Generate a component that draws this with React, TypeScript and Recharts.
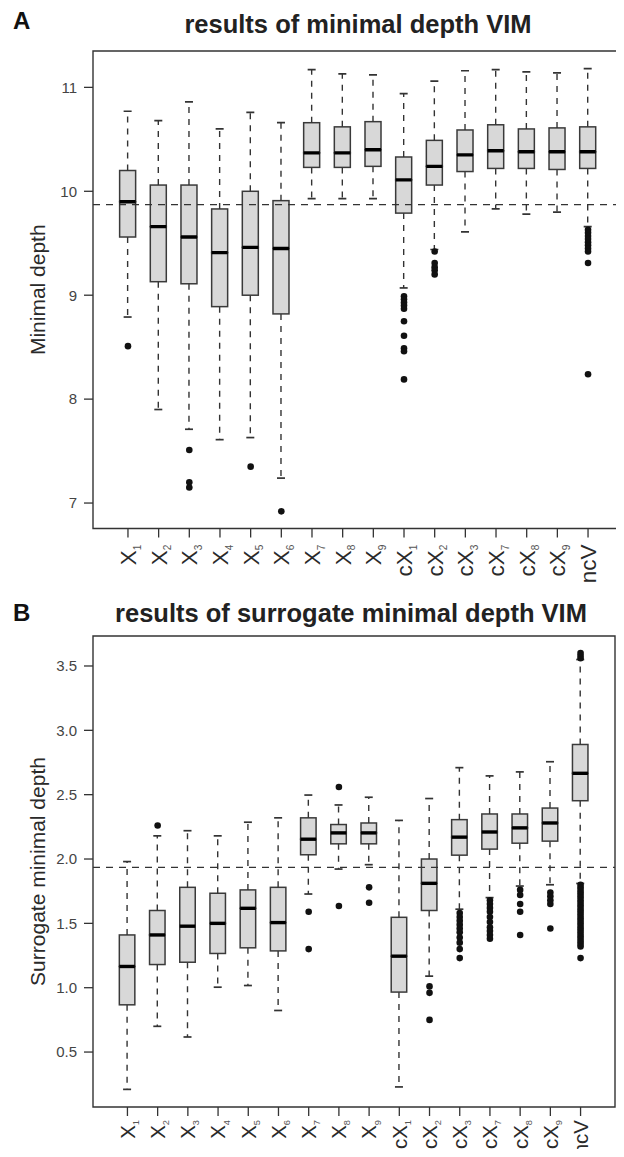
import {
  Bar,
  ComposedChart,
  Label,
  ReferenceArea,
  ReferenceLine,
  Scatter,
  XAxis,
  YAxis,
} from "recharts";

const FONT = "'Liberation Sans', Arial, Helvetica, sans-serif";

const categories = [
  "X1", "X2", "X3", "X4", "X5", "X6", "X7", "X8", "X9",
  "cX1", "cX2", "cX3", "cX7", "cX8", "cX9", "ncV",
];
const catTicks = categories.map((_, i) => i + 1);

// panel A: minimal depth
const depthLow = [8.79, 7.9, 7.71, 7.61, 7.63, 7.24, 9.93, 9.93, 9.93, 9.07, 9.44, 9.61, 9.83, 9.78, 9.8, 9.66];
const depthQ1 = [9.56, 9.13, 9.11, 8.89, 9.0, 8.82, 10.23, 10.23, 10.24, 9.79, 10.06, 10.19, 10.22, 10.22, 10.21, 10.22];
const depthMed = [9.9, 9.66, 9.56, 9.41, 9.46, 9.45, 10.37, 10.37, 10.4, 10.11, 10.24, 10.35, 10.39, 10.38, 10.38, 10.38];
const depthQ3 = [10.2, 10.06, 10.06, 9.83, 10.0, 9.91, 10.66, 10.62, 10.67, 10.33, 10.49, 10.59, 10.64, 10.6, 10.61, 10.62];
const depthHigh = [10.77, 10.68, 10.86, 10.6, 10.76, 10.66, 11.17, 11.13, 11.12, 10.94, 11.06, 11.16, 11.17, 11.15, 11.14, 11.18];
const depthOutliers: [string, number][] = [
  ["X1", 8.51],
  ["X3", 7.51], ["X3", 7.2], ["X3", 7.15],
  ["X5", 7.35],
  ["X6", 6.92],
  ["cX1", 8.99], ["cX1", 8.96], ["cX1", 8.93], ["cX1", 8.9], ["cX1", 8.87],
  ["cX1", 8.75], ["cX1", 8.61], ["cX1", 8.49], ["cX1", 8.46], ["cX1", 8.19],
  ["cX2", 9.42], ["cX2", 9.31], ["cX2", 9.27], ["cX2", 9.24], ["cX2", 9.2],
  ["ncV", 9.63], ["ncV", 9.6], ["ncV", 9.57], ["ncV", 9.54], ["ncV", 9.51],
  ["ncV", 9.48], ["ncV", 9.45], ["ncV", 9.42], ["ncV", 9.31], ["ncV", 8.24],
];
const depthCutoff = 9.872;
const depthDomain: [number, number] = [6.755, 11.35];
const depthTicks = [7, 8, 9, 10, 11];

// panel B: surrogate minimal depth
const surLow = [0.21, 0.7, 0.617, 1.004, 1.017, 0.823, 1.728, 1.922, 1.956, 0.229, 1.09, 1.61, 1.7, 1.79, 1.8, 1.81];
const surQ1 = [0.867, 1.18, 1.198, 1.266, 1.31, 1.286, 2.033, 2.118, 2.118, 0.966, 1.6, 2.03, 2.077, 2.123, 2.139, 2.453];
const surMed = [1.165, 1.41, 1.478, 1.5, 1.617, 1.506, 2.154, 2.203, 2.203, 1.245, 1.811, 2.17, 2.21, 2.242, 2.28, 2.666];
const surQ3 = [1.41, 1.6, 1.78, 1.734, 1.76, 1.78, 2.32, 2.268, 2.28, 1.547, 2.0, 2.306, 2.35, 2.35, 2.396, 2.89];
const surHigh = [1.98, 2.18, 2.22, 2.18, 2.286, 2.32, 2.497, 2.42, 2.48, 2.3, 2.47, 2.71, 2.646, 2.677, 2.756, 3.55];
const surOutliers: [string, number][] = [
  ["X2", 2.26],
  ["X7", 1.59], ["X7", 1.3],
  ["X8", 2.56], ["X8", 1.635],
  ["X9", 1.78], ["X9", 1.66],
  ["cX2", 1.01], ["cX2", 0.96], ["cX2", 0.75],
  ["cX3", 1.58], ["cX3", 1.55], ["cX3", 1.52], ["cX3", 1.49], ["cX3", 1.46],
  ["cX3", 1.43], ["cX3", 1.39], ["cX3", 1.35], ["cX3", 1.3], ["cX3", 1.23],
  ["cX7", 1.68], ["cX7", 1.65], ["cX7", 1.62], ["cX7", 1.59], ["cX7", 1.55],
  ["cX7", 1.51], ["cX7", 1.47], ["cX7", 1.44], ["cX7", 1.41], ["cX7", 1.38],
  ["cX8", 1.76], ["cX8", 1.72], ["cX8", 1.65], ["cX8", 1.59], ["cX8", 1.41],
  ["cX9", 1.74], ["cX9", 1.71], ["cX9", 1.68], ["cX9", 1.65], ["cX9", 1.46],
  ["ncV", 3.56], ["ncV", 3.58], ["ncV", 3.6],
  ["ncV", 1.8], ["ncV", 1.78], ["ncV", 1.76], ["ncV", 1.74], ["ncV", 1.72],
  ["ncV", 1.7], ["ncV", 1.68], ["ncV", 1.66], ["ncV", 1.64], ["ncV", 1.62],
  ["ncV", 1.6], ["ncV", 1.58], ["ncV", 1.56], ["ncV", 1.54], ["ncV", 1.52],
  ["ncV", 1.5], ["ncV", 1.48], ["ncV", 1.46], ["ncV", 1.44], ["ncV", 1.42],
  ["ncV", 1.4], ["ncV", 1.38], ["ncV", 1.36], ["ncV", 1.34], ["ncV", 1.32],
  ["ncV", 1.23],
];
const surCutoff = 1.935;
const surDomain: [number, number] = [0.073, 3.733];
const surTicks = [0.5, 1, 1.5, 2, 2.5, 3, 3.5];

const xDomain: [number, number] = [-0.14, 17.14];

function buildRows(low: number[], q1: number[], med: number[], q3: number[], high: number[]) {
  return categories.map((name, i) => ({
    pos: i + 1,
    name,
    base: low[i],
    lowerWhisker: q1[i] - low[i],
    lowerBox: med[i] - q1[i],
    upperBox: q3[i] - med[i],
    upperWhisker: high[i] - q3[i],
  }));
}

function buildPoints(list: [string, number][]) {
  return list.map(([name, value]) => ({ pos: categories.indexOf(name) + 1, value }));
}

const STROKE = "#333";

const Nothing = () => <g />;

function LowerWhisker(props: any) {
  const { x, y, width, height } = props;
  const cx = x + width / 2;
  const yb = y + height;
  return (
    <g>
      <line x1={cx} x2={cx} y1={y} y2={yb} stroke={STROKE} strokeWidth={1.4} strokeDasharray="6 6" />
      <line x1={cx - 4} x2={cx + 4} y1={yb} y2={yb} stroke={STROKE} strokeWidth={1.7} />
    </g>
  );
}

function UpperWhisker(props: any) {
  const { x, y, width, height } = props;
  const cx = x + width / 2;
  return (
    <g>
      <line x1={cx} x2={cx} y1={y + height} y2={y} stroke={STROKE} strokeWidth={1.4} strokeDasharray="6 6" />
      <line x1={cx - 4} x2={cx + 4} y1={y} y2={y} stroke={STROKE} strokeWidth={1.7} />
    </g>
  );
}

function LowerBox(props: any) {
  const { x, y, width, height } = props;
  return <rect x={x} y={y} width={width} height={height} fill="#d8d8d8" stroke="#3a3a3a" strokeWidth={1.5} />;
}

function UpperBox(props: any) {
  const { x, y, width, height } = props;
  const ym = y + height;
  return (
    <g>
      <rect x={x} y={y} width={width} height={height} fill="#d8d8d8" stroke="#3a3a3a" strokeWidth={1.5} />
      <line x1={x} x2={x + width} y1={ym} y2={ym} stroke="#000" strokeWidth={3.4} />
    </g>
  );
}

function OutlierDot(props: any) {
  const { cx, cy } = props;
  return <circle cx={cx} cy={cy} r={3.3} fill="#111" />;
}

function makeCategoryTick(fontSize: number, gap: number) {
  return function CategoryTick(props: any) {
    const { x, y, payload } = props;
    const label = categories[payload.value - 1];
    if (!label) return <g />;
    const m = label.match(/^(c?X)(\d)$/);
    return (
      <g transform={`translate(${x},${y + gap})`}>
        <text
          transform="rotate(-90)"
          textAnchor="end"
          x={0}
          y={fontSize * 0.36}
          fontSize={fontSize}
          fill="#2a2a2a"
          fontFamily={FONT}
        >
          {m ? (
            <>
              <tspan>{m[1]}</tspan>
              <tspan fontSize={fontSize * 0.45} dy={fontSize * 0.2} fill="#555">{m[2]}</tspan>
            </>
          ) : (
            label
          )}
        </text>
      </g>
    );
  };
}

const TopTick = makeCategoryTick(22.5, 5);
const BottomTick = makeCategoryTick(20.5, 2);

function BoxPanel({
  rows,
  points,
  domain,
  ticks,
  cutoff,
  yLabel,
  height,
  margin,
  xAxisHeight,
  boxWidth,
  fmt,
  Tick,
}: {
  rows: ReturnType<typeof buildRows>;
  points: { pos: number; value: number }[];
  domain: [number, number];
  ticks: number[];
  cutoff: number;
  yLabel: string;
  height: number;
  margin: { top: number; right: number; bottom: number; left: number };
  xAxisHeight: number;
  boxWidth: number;
  fmt: (v: number) => string;
  Tick: (p: any) => any;
}) {
  return (
    <ComposedChart width={624} height={height} data={rows} margin={margin}>
      <XAxis
        dataKey="pos"
        type="number"
        domain={xDomain}
        allowDataOverflow
        ticks={catTicks}
        interval={0}
        tickSize={9}
        axisLine={false}
        tickLine={{ stroke: STROKE, strokeWidth: 1.3 }}
        height={xAxisHeight}
        tick={<Tick />}
      />
      <YAxis
        type="number"
        domain={domain}
        allowDataOverflow
        ticks={ticks}
        interval={0}
        width={93}
        tickSize={9}
        tickMargin={7}
        axisLine={false}
        tickLine={{ stroke: STROKE, strokeWidth: 1.3 }}
        tickFormatter={fmt}
        tick={{ fill: "#444", fontSize: 15, fontFamily: FONT }}
      >
        <Label
          value={yLabel}
          angle={-90}
          position="center"
          dx={-8.5}
          fontSize={21}
          fill="#2a2a2a"
          fontFamily={FONT}
          style={{ fill: "#2a2a2a", fontSize: 21, fontFamily: FONT, textAnchor: "middle" }}
        />
      </YAxis>
      <ReferenceArea
        x1={xDomain[0]}
        x2={xDomain[1]}
        y1={domain[0]}
        y2={domain[1]}
        fill="none"
        fillOpacity={0}
        stroke={STROKE}
        strokeWidth={1.4}
        ifOverflow="visible"
      />
      <Bar dataKey="base" stackId="box" barSize={boxWidth} shape={Nothing} isAnimationActive={false} />
      <Bar dataKey="lowerWhisker" stackId="box" barSize={boxWidth} shape={LowerWhisker} isAnimationActive={false} />
      <Bar dataKey="lowerBox" stackId="box" barSize={boxWidth} shape={LowerBox} isAnimationActive={false} />
      <Bar dataKey="upperBox" stackId="box" barSize={boxWidth} shape={UpperBox} isAnimationActive={false} />
      <Bar dataKey="upperWhisker" stackId="box" barSize={boxWidth} shape={UpperWhisker} isAnimationActive={false} />
      <ReferenceLine y={cutoff} stroke={STROKE} strokeWidth={1.4} strokeDasharray="7 6" />
      <Scatter data={points} dataKey="value" shape={OutlierDot} isAnimationActive={false} />
    </ComposedChart>
  );
}

export default function App() {
  const depthRows = buildRows(depthLow, depthQ1, depthMed, depthQ3, depthHigh);
  const surRows = buildRows(surLow, surQ1, surMed, surQ3, surHigh);
  return (
    <div
      style={{
        position: "relative",
        width: 624,
        height: 1157,
        margin: -8,
        background: "#fff",
        overflow: "hidden",
        fontFamily: FONT,
      }}
    >
      <div style={{ position: "absolute", left: 0, top: 0 }}>
        <BoxPanel
          rows={depthRows}
          points={buildPoints(depthOutliers)}
          domain={depthDomain}
          ticks={depthTicks}
          cutoff={depthCutoff}
          yLabel="Minimal depth"
          height={600}
          margin={{ top: 51, right: 1, bottom: 11.5, left: 0 }}
          xAxisHeight={60}
          boxWidth={16}
          fmt={(v) => String(v)}
          Tick={TopTick}
        />
      </div>
      <div style={{ position: "absolute", left: 0, top: 580 }}>
        <BoxPanel
          rows={surRows}
          points={buildPoints(surOutliers)}
          domain={surDomain}
          ticks={surTicks}
          cutoff={surCutoff}
          yLabel="Surrogate minimal depth"
          height={577}
          margin={{ top: 56, right: 9, bottom: 5, left: 0 }}
          xAxisHeight={45}
          boxWidth={15.5}
          fmt={(v) => v.toFixed(1)}
          Tick={BottomTick}
        />
      </div>
      <svg
        width={624}
        height={1157}
        style={{ position: "absolute", left: 0, top: 0, pointerEvents: "none" }}
      >
        <text x={13} y={29} fontSize={24} fontWeight="bold" fill="#111" fontFamily={FONT}>A</text>
        <text x={358} y={33} fontSize={25.5} fontWeight="bold" fill="#222" textAnchor="middle" fontFamily={FONT}>
          results of minimal depth VIM
        </text>
        <text x={13} y={621} fontSize={24} fontWeight="bold" fill="#111" fontFamily={FONT}>B</text>
        <text x={351} y={622} fontSize={25.5} fontWeight="bold" fill="#222" textAnchor="middle" fontFamily={FONT}>
          results of surrogate minimal depth VIM
        </text>
      </svg>
    </div>
  );
}
